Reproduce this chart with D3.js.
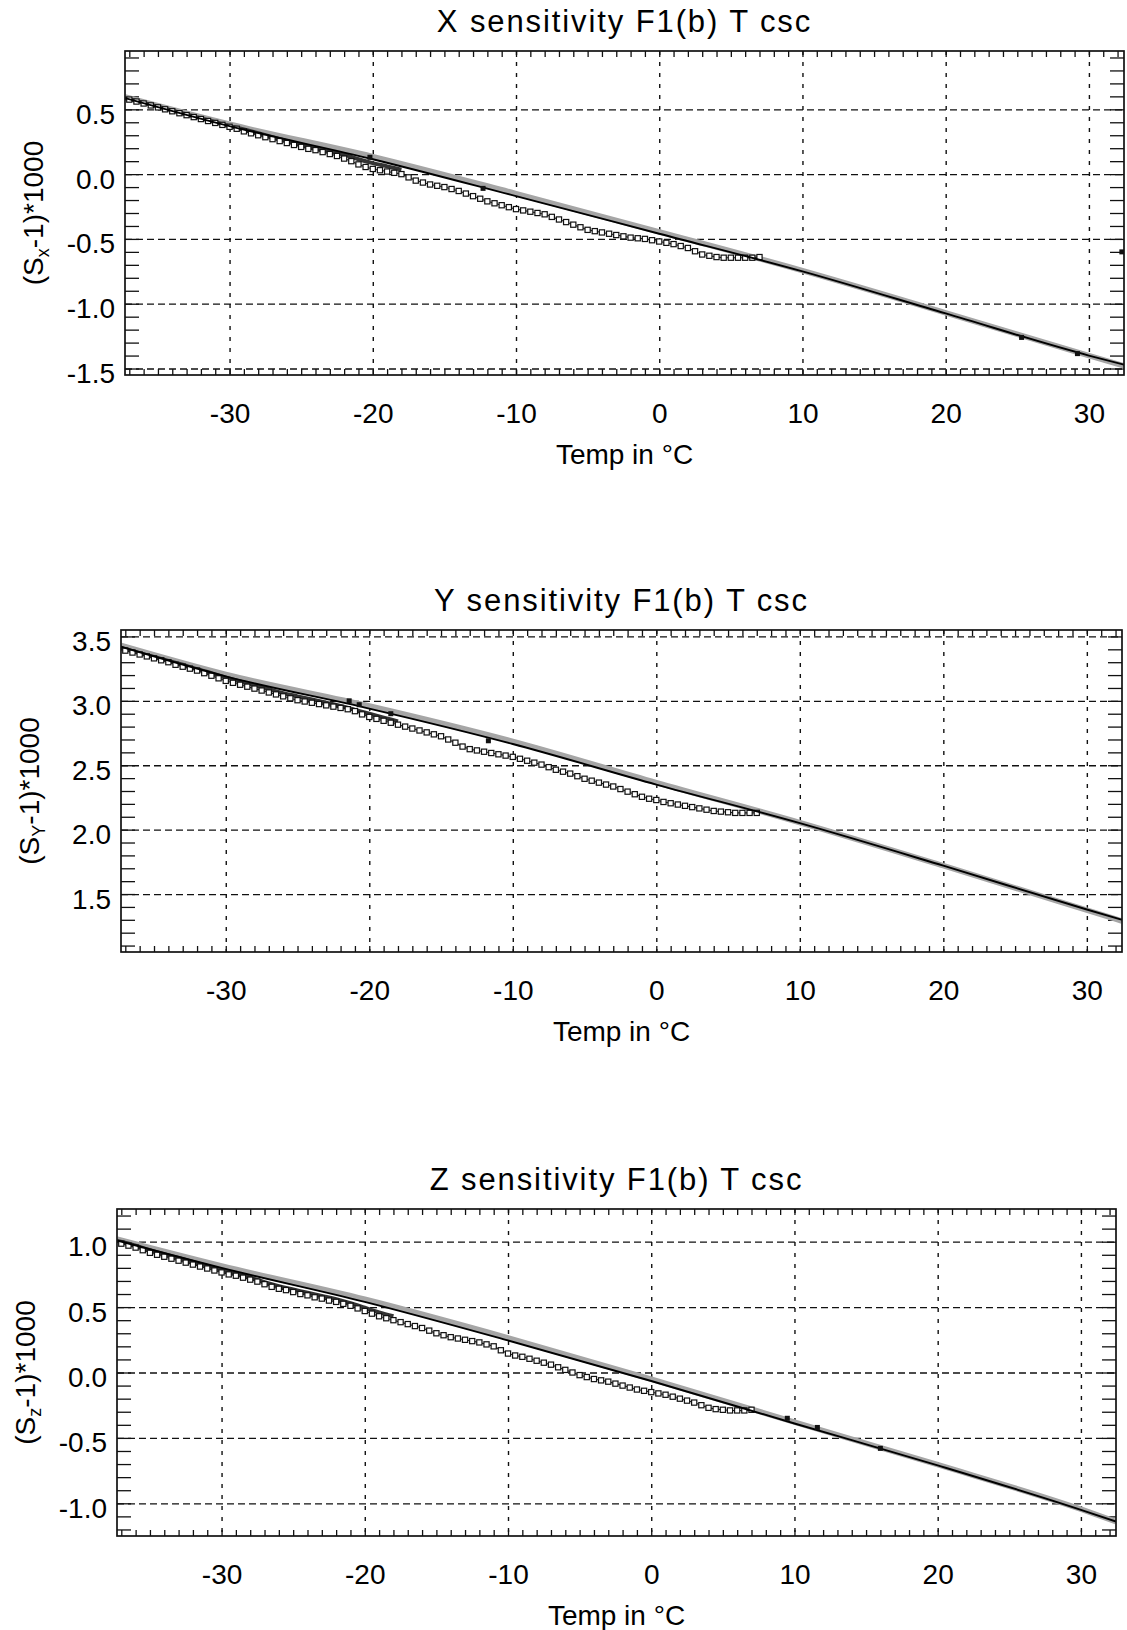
<!DOCTYPE html>
<html>
<head>
<meta charset="utf-8">
<script src="https://cdn.jsdelivr.net/npm/d3@7"></script>
<style>
  body { margin: 0; background: #fff; }
  svg text { font-family: "Liberation Sans", Arial, Helvetica, sans-serif; fill: #000; }
</style>
</head>
<body>
<div id="chart"></div>
<script>
// Temperature samples of the square-marker runs (deg C)
const sqTemp = [-37, -36.5, -36, -35.5, -35, -34.5, -34, -33.5, -33, -32.5,
  -32, -31.5, -31, -30.5, -30, -29.5, -29, -28.5, -28, -27.5,
  -27, -26.5, -26, -25.5, -25, -24.5, -24, -23.5, -23, -22.5,
  -22, -21.5, -21, -20.5, -20, -19.5, -19, -18.5, -18, -17.5,
  -17, -16.5, -16, -15.5, -15, -14.5, -14, -13.5, -13, -12.5,
  -12, -11.5, -11, -10.5, -10, -9.5, -9, -8.5, -8, -7.5,
  -7, -6.5, -6, -5.5, -5, -4.5, -4, -3.5, -3, -2.5,
  -2, -1.5, -1, -0.5, 0, 0.5, 1, 1.5, 2, 2.5,
  3, 3.5, 4, 4.5, 5, 5.5, 6, 6.5, 7];

const sqX = [0.575, 0.56, 0.545, 0.53, 0.515, 0.50, 0.485, 0.47, 0.455, 0.44,
  0.425, 0.41, 0.395, 0.38, 0.365, 0.35, 0.33, 0.315, 0.30, 0.285,
  0.27, 0.255, 0.24, 0.225, 0.21, 0.195, 0.185, 0.17, 0.155, 0.14,
  0.12, 0.10, 0.075, 0.055, 0.04, 0.03, 0.02, 0.01, 0.00, -0.025,
  -0.05, -0.065, -0.08, -0.09, -0.10, -0.115, -0.13, -0.15, -0.17, -0.19,
  -0.21, -0.225, -0.24, -0.255, -0.27, -0.28, -0.29, -0.30, -0.31, -0.33,
  -0.35, -0.37, -0.39, -0.41, -0.43, -0.44, -0.45, -0.46, -0.47, -0.48,
  -0.49, -0.495, -0.50, -0.51, -0.52, -0.53, -0.54, -0.555, -0.57, -0.595,
  -0.62, -0.63, -0.64, -0.645, -0.645, -0.645, -0.645, -0.645, -0.64];

const sqY = [3.39, 3.375, 3.36, 3.345, 3.33, 3.315, 3.30, 3.28, 3.265, 3.25,
  3.235, 3.215, 3.195, 3.175, 3.155, 3.14, 3.125, 3.11, 3.095, 3.08,
  3.065, 3.05, 3.035, 3.02, 3.005, 2.995, 2.985, 2.975, 2.965, 2.955,
  2.945, 2.935, 2.92, 2.895, 2.875, 2.86, 2.845, 2.83, 2.815, 2.80,
  2.785, 2.77, 2.755, 2.74, 2.725, 2.70, 2.675, 2.645, 2.625, 2.615,
  2.605, 2.595, 2.585, 2.575, 2.565, 2.55, 2.535, 2.52, 2.505, 2.485,
  2.465, 2.45, 2.435, 2.415, 2.395, 2.38, 2.365, 2.35, 2.335, 2.315,
  2.295, 2.275, 2.255, 2.24, 2.23, 2.215, 2.205, 2.195, 2.185, 2.175,
  2.165, 2.155, 2.145, 2.14, 2.135, 2.13, 2.13, 2.13, 2.13];

const sqZ = [0.985, 0.97, 0.955, 0.935, 0.915, 0.90, 0.885, 0.87, 0.855, 0.84,
  0.825, 0.81, 0.795, 0.78, 0.765, 0.75, 0.74, 0.725, 0.71, 0.695,
  0.675, 0.655, 0.64, 0.63, 0.615, 0.60, 0.59, 0.575, 0.565, 0.55,
  0.54, 0.525, 0.51, 0.49, 0.47, 0.45, 0.43, 0.415, 0.40, 0.385,
  0.37, 0.355, 0.34, 0.32, 0.30, 0.285, 0.27, 0.26, 0.25, 0.24,
  0.23, 0.215, 0.20, 0.17, 0.145, 0.13, 0.12, 0.105, 0.09, 0.075,
  0.06, 0.04, 0.02, 0.00, -0.02, -0.035, -0.05, -0.06, -0.07, -0.085,
  -0.10, -0.115, -0.13, -0.14, -0.15, -0.16, -0.17, -0.185, -0.20, -0.215,
  -0.23, -0.25, -0.27, -0.28, -0.285, -0.29, -0.29, -0.29, -0.285];

// dense dark run at the cold end
const darkTemp = [-37.3, -36, -35, -34, -33, -32, -31, -30, -29, -28, -27,
  -26, -25, -24, -23, -22, -21, -20, -19, -18];
const darkX = [0.585, 0.55, 0.52, 0.49, 0.46, 0.43, 0.40, 0.37, 0.345, 0.315, 0.285,
  0.255, 0.225, 0.20, 0.175, 0.15, 0.115, 0.085, 0.06, 0.035];
const darkY = [3.41, 3.37, 3.34, 3.31, 3.28, 3.245, 3.215, 3.18, 3.15, 3.12, 3.09,
  3.06, 3.035, 3.01, 2.985, 2.96, 2.93, 2.90, 2.87, 2.84];
const darkZ = [1.005, 0.97, 0.935, 0.905, 0.875, 0.845, 0.815, 0.785, 0.755, 0.725, 0.69,
  0.66, 0.635, 0.61, 0.585, 0.56, 0.53, 0.495, 0.46, 0.43];

// fit curves (black) and grey band
const fitTemp = [-37.3, -30, -20, -10, 0, 10, 20, 30, 32.45];
const fitX = [0.587, 0.37, 0.115, -0.17, -0.46, -0.75, -1.075, -1.40, -1.47];
const bandX = [0.595, 0.385, 0.135, -0.15, -0.445, -0.745, -1.07, -1.40, -1.48];
const fitY = [3.42, 3.19, 2.94, 2.665, 2.35, 2.05, 1.72, 1.38, 1.30];
const bandY = [3.43, 3.205, 2.96, 2.685, 2.365, 2.055, 1.72, 1.375, 1.29];
const fitZ = [1.01, 0.80, 0.54, 0.245, -0.065, -0.39, -0.71, -1.05, -1.14];
const bandZ = [1.02, 0.815, 0.56, 0.265, -0.05, -0.38, -0.705, -1.045, -1.14];

// stray single points [temp, value]
const extraX = [[-20.2, 0.13], [-12.3, -0.11], [25.3, -1.26], [29.2, -1.385], [32.3, -0.6]];
const extraY = [[-21.4, 3.0], [-20.7, 2.97], [-18.5, 2.9], [-11.7, 2.69]];
const extraZ = [[9.5, -0.35], [11.6, -0.42], [16, -0.58]];

const xTicks = [-30, -20, -10, 0, 10, 20, 30];
const yTicksX = [0.5, 0.0, -0.5, -1.0, -1.5];
const yTicksY = [3.5, 3.0, 2.5, 2.0, 1.5];
const yTicksZ = [1.0, 0.5, 0.0, -0.5, -1.0];

const titles = ["X sensitivity F1(b) T csc", "Y sensitivity F1(b) T csc", "Z sensitivity F1(b) T csc"];
const subs = ["x", "Y", "z"];

const panels = [
  { box: [125, 51, 1124, 375], yDom: [-1.55, 0.95], sq: sqX, dark: darkX, fit: fitX, band: bandX, extra: extraX, yTicks: yTicksX },
  { box: [121, 630, 1122, 952], yDom: [1.05, 3.55], sq: sqY, dark: darkY, fit: fitY, band: bandY, extra: extraY, yTicks: yTicksY },
  { box: [117, 1209, 1116, 1536], yDom: [-1.25, 1.25], sq: sqZ, dark: darkZ, fit: fitZ, band: bandZ, extra: extraZ, yTicks: yTicksZ },
];

const xDom = [-37.3, 32.45];
const W = 1127, H = 1630;
const FONT = "Liberation Sans, Arial, sans-serif";

const svg = d3.select("#chart").append("svg")
  .attr("width", W).attr("height", H);

panels.forEach((p, i) => {
  const [l, t, r, b] = p.box;
  const w = r - l, h = b - t;
  const g = svg.append("g").attr("transform", `translate(${l},${t})`);

  const x = d3.scaleLinear().domain(xDom).range([0, w]);
  const y = d3.scaleLinear().domain(p.yDom).range([h, 0]);

  const minorX = d3.range(Math.ceil(xDom[0]), Math.floor(xDom[1]) + 1);
  const minorY = d3.range(Math.ceil(p.yDom[0] * 10), Math.floor(p.yDom[1] * 10) + 1).map(v => v / 10);

  // grid lines
  g.append("g")
    .call(d3.axisBottom(x).tickValues(xTicks).tickSize(h).tickFormat(""))
    .call(s => s.select(".domain").remove())
    .selectAll("line").attr("stroke", "#111").attr("stroke-width", 1.4).attr("stroke-dasharray", "4,7");

  g.append("g")
    .call(d3.axisRight(y).tickValues(p.yTicks).tickSize(w).tickFormat(""))
    .call(s => s.select(".domain").remove())
    .selectAll("line").attr("stroke", "#111").attr("stroke-width", 1.3).attr("stroke-dasharray", "7,4");

  // minor ticks all round
  const tickStyle = s => {
    s.select(".domain").remove();
    s.selectAll("line").attr("stroke", "#111").attr("stroke-width", 1.3);
  };
  g.append("g").call(d3.axisTop(x).tickValues(minorX).tickSize(-6).tickFormat("")).call(tickStyle);
  g.append("g").attr("transform", `translate(0,${h})`)
    .call(d3.axisBottom(x).tickValues(minorX).tickSize(-6).tickFormat("")).call(tickStyle);
  g.append("g").call(d3.axisLeft(y).tickValues(minorY).tickSize(-14).tickFormat("")).call(tickStyle);
  g.append("g").attr("transform", `translate(${w},0)`)
    .call(d3.axisRight(y).tickValues(minorY).tickSize(-14).tickFormat("")).call(tickStyle);

  // tick labels
  g.append("g").attr("transform", `translate(0,${h})`)
    .call(d3.axisBottom(x).tickValues(xTicks).tickSize(0).tickPadding(28).tickFormat(d => String(d)))
    .call(s => s.select(".domain").remove())
    .selectAll("text").attr("font-size", 28).style("font-family", FONT).attr("fill", "#000");

  g.append("g")
    .call(d3.axisLeft(y).tickValues(p.yTicks).tickSize(0).tickPadding(10).tickFormat(d => d.toFixed(1)))
    .call(s => s.select(".domain").remove())
    .selectAll("text").attr("font-size", 28).attr("dy", "0.5em").style("font-family", FONT).attr("fill", "#000");

  // clip for data
  g.append("clipPath").attr("id", "clip" + i)
    .append("rect").attr("width", w).attr("height", h);
  const plot = g.append("g").attr("clip-path", `url(#clip${i})`);

  const fitLine = d3.line()
    .x((d, k) => x(fitTemp[k]))
    .y(d => y(d))
    .curve(d3.curveMonotoneX);

  // grey band
  plot.append("path")
    .attr("fill", "none").attr("stroke", "#a6a6a6").attr("stroke-width", 5.5)
    .attr("d", fitLine(p.band));

  // dark cluster drawn as a heavy run
  const darkLine = d3.line().x((d, k) => x(darkTemp[k])).y(d => y(d)).curve(d3.curveMonotoneX);
  plot.append("path")
    .attr("fill", "none").attr("stroke", "#333").attr("stroke-width", 4)
    .attr("d", darkLine(p.dark));

  // square marker run, joined
  const sqLine = d3.line().x((d, k) => x(sqTemp[k])).y(d => y(d));
  plot.append("path")
    .attr("fill", "none").attr("stroke", "#222").attr("stroke-width", 1.1)
    .attr("d", sqLine(p.sq));
  plot.selectAll(".sq").data(p.sq).enter().append("rect")
    .attr("class", "sq")
    .attr("x", (d, k) => x(sqTemp[k]) - 2.6)
    .attr("y", d => y(d) - 2.6)
    .attr("width", 5.2).attr("height", 5.2)
    .attr("fill", "#fff").attr("stroke", "#111").attr("stroke-width", 1.2);

  // black fit line
  plot.append("path")
    .attr("fill", "none").attr("stroke", "#000").attr("stroke-width", 1.9)
    .attr("d", fitLine(p.fit));

  // stray points
  plot.selectAll(".ex").data(p.extra).enter().append("rect")
    .attr("class", "ex")
    .attr("x", d => x(d[0]) - 2.5)
    .attr("y", d => y(d[1]) - 2.5)
    .attr("width", 5).attr("height", 5)
    .attr("fill", "#111");

  // frame
  g.append("rect").attr("width", w).attr("height", h)
    .attr("fill", "none").attr("stroke", "#111").attr("stroke-width", 1.7);

  // title
  svg.append("text")
    .attr("x", l + w / 2).attr("y", t - 19)
    .attr("text-anchor", "middle")
    .attr("font-size", 31)
    .attr("letter-spacing", 1.9)
    .text(titles[i]);

  // x axis title
  svg.append("text")
    .attr("x", l + w / 2).attr("y", b + 89)
    .attr("text-anchor", "middle")
    .attr("font-size", 28)
    .text("Temp in °C");

  // y axis title with subscript
  const yt = svg.append("text")
    .attr("transform", `translate(${l - 82},${t + h / 2}) rotate(-90)`)
    .attr("text-anchor", "middle")
    .attr("font-size", 28);
  yt.append("tspan").text("(S");
  yt.append("tspan").attr("font-size", 18).attr("dy", 6).text(subs[i]);
  yt.append("tspan").attr("dy", -6).text("-1)*1000");
});
</script>
</body>
</html>
